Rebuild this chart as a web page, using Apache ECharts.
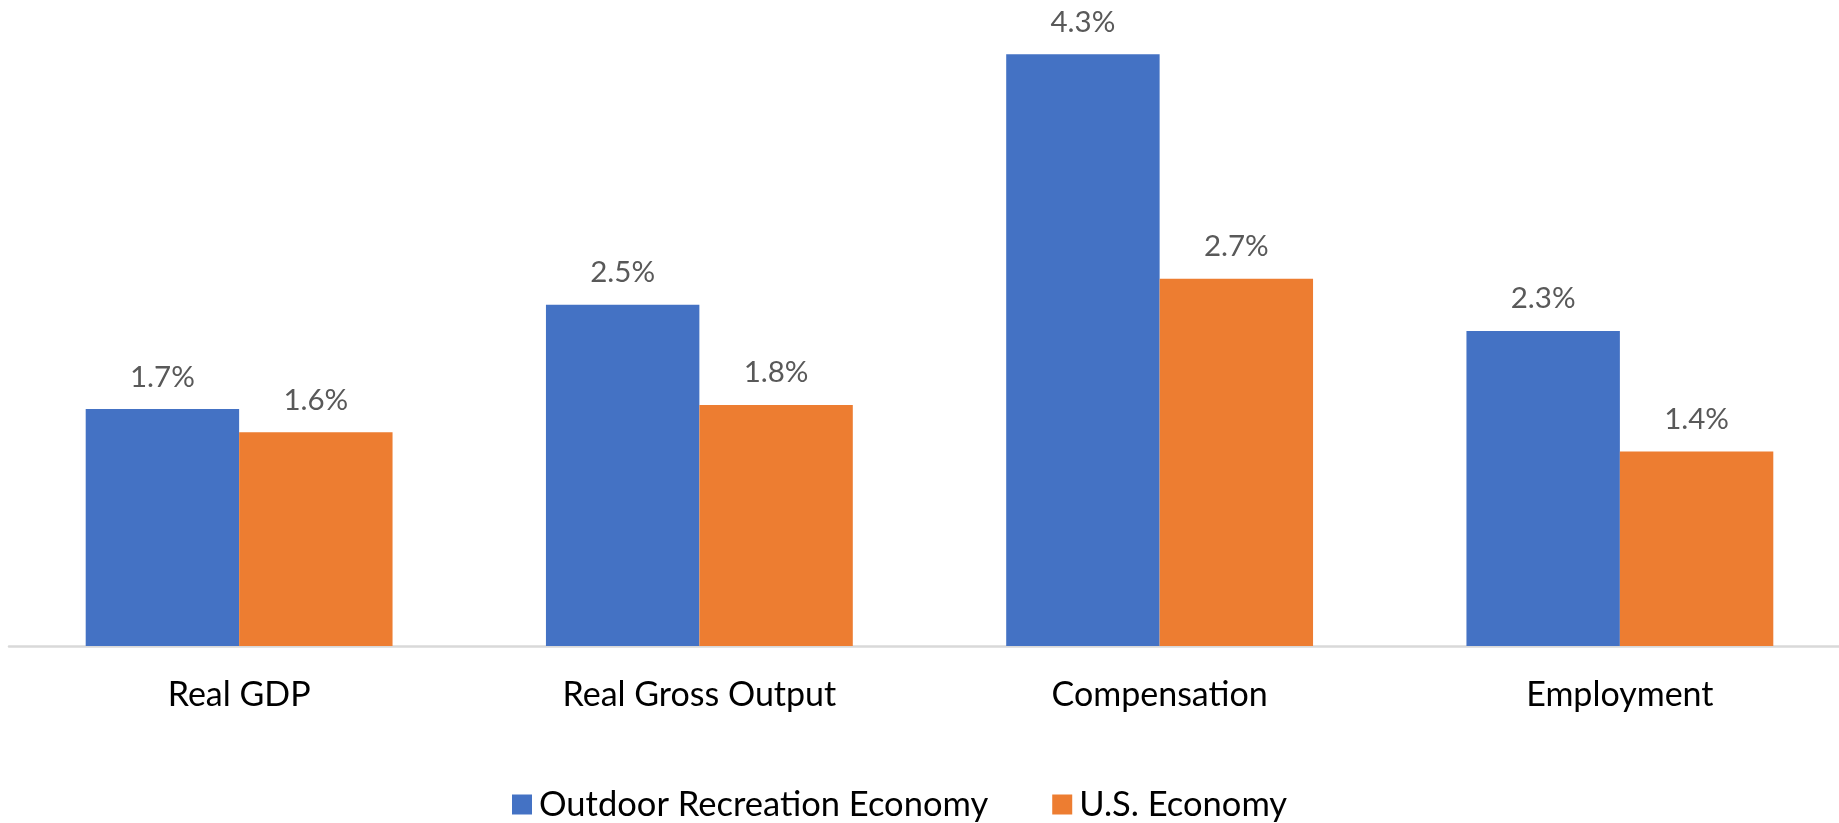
<!DOCTYPE html>
<html>
<head>
<meta charset="utf-8">
<script src="https://cdn.jsdelivr.net/npm/echarts@6/dist/echarts.min.js"></script>
<style>
html,body{margin:0;padding:0;background:#fff;}
#chart{width:1839px;height:823px;}
</style>
</head>
<body>
<div id="chart"></div>
<script>
const categories = ['Real GDP', 'Real Gross Output', 'Compensation', 'Employment'];
const seriesNames = ['Outdoor Recreation Economy', 'U.S. Economy'];
const outdoorValues = [1.73, 2.49, 4.32, 2.30];
const usValues = [1.56, 1.76, 2.68, 1.42];

const FONT = 'Lato, "Open Sans", sans-serif';
const chart = echarts.init(document.getElementById('chart'), null, {renderer: 'canvas'});

const labelCfg = {
  show: true,
  position: 'top',
  distance: 17,
  color: '#595959',
  fontSize: 29.5,
  fontFamily: FONT,
  formatter: p => p.value.toFixed(1) + '%'
};

chart.setOption({
  animation: false,
  backgroundColor: '#ffffff',
  grid: {left: 9, width: 1841, top: 29.5, bottom: 177, containLabel: false, outerBoundsMode: 'none'},
  legend: {
    left: 507,
    top: 782,
    itemWidth: 20,
    itemHeight: 20,
    itemGap: 64,
    icon: 'rect',
    data: seriesNames,
    textStyle: {color: '#000', fontSize: 34.5, lineHeight: 34, fontFamily: FONT, padding: [0, 0, 0, 2]}
  },
  xAxis: {
    type: 'category',
    data: categories,
    axisLine: {show: true, lineStyle: {color: '#d9d9d9', width: 2.5}},
    axisTick: {show: false},
    axisLabel: {color: '#000', fontSize: 34, fontFamily: FONT, margin: 32}
  },
  yAxis: {
    type: 'value',
    min: 0,
    max: 4.5,
    show: false,
    splitLine: {show: false}
  },
  series: [
    {
      name: seriesNames[0],
      type: 'bar',
      data: outdoorValues,
      barGap: '0%',
      barCategoryGap: '33.33%',
      itemStyle: {color: '#4472C4'},
      label: labelCfg
    },
    {
      name: seriesNames[1],
      type: 'bar',
      data: usValues,
      barGap: '0%',
      barCategoryGap: '33.33%',
      itemStyle: {color: '#ED7D31'},
      label: labelCfg
    }
  ]
});
</script>
</body>
</html>
